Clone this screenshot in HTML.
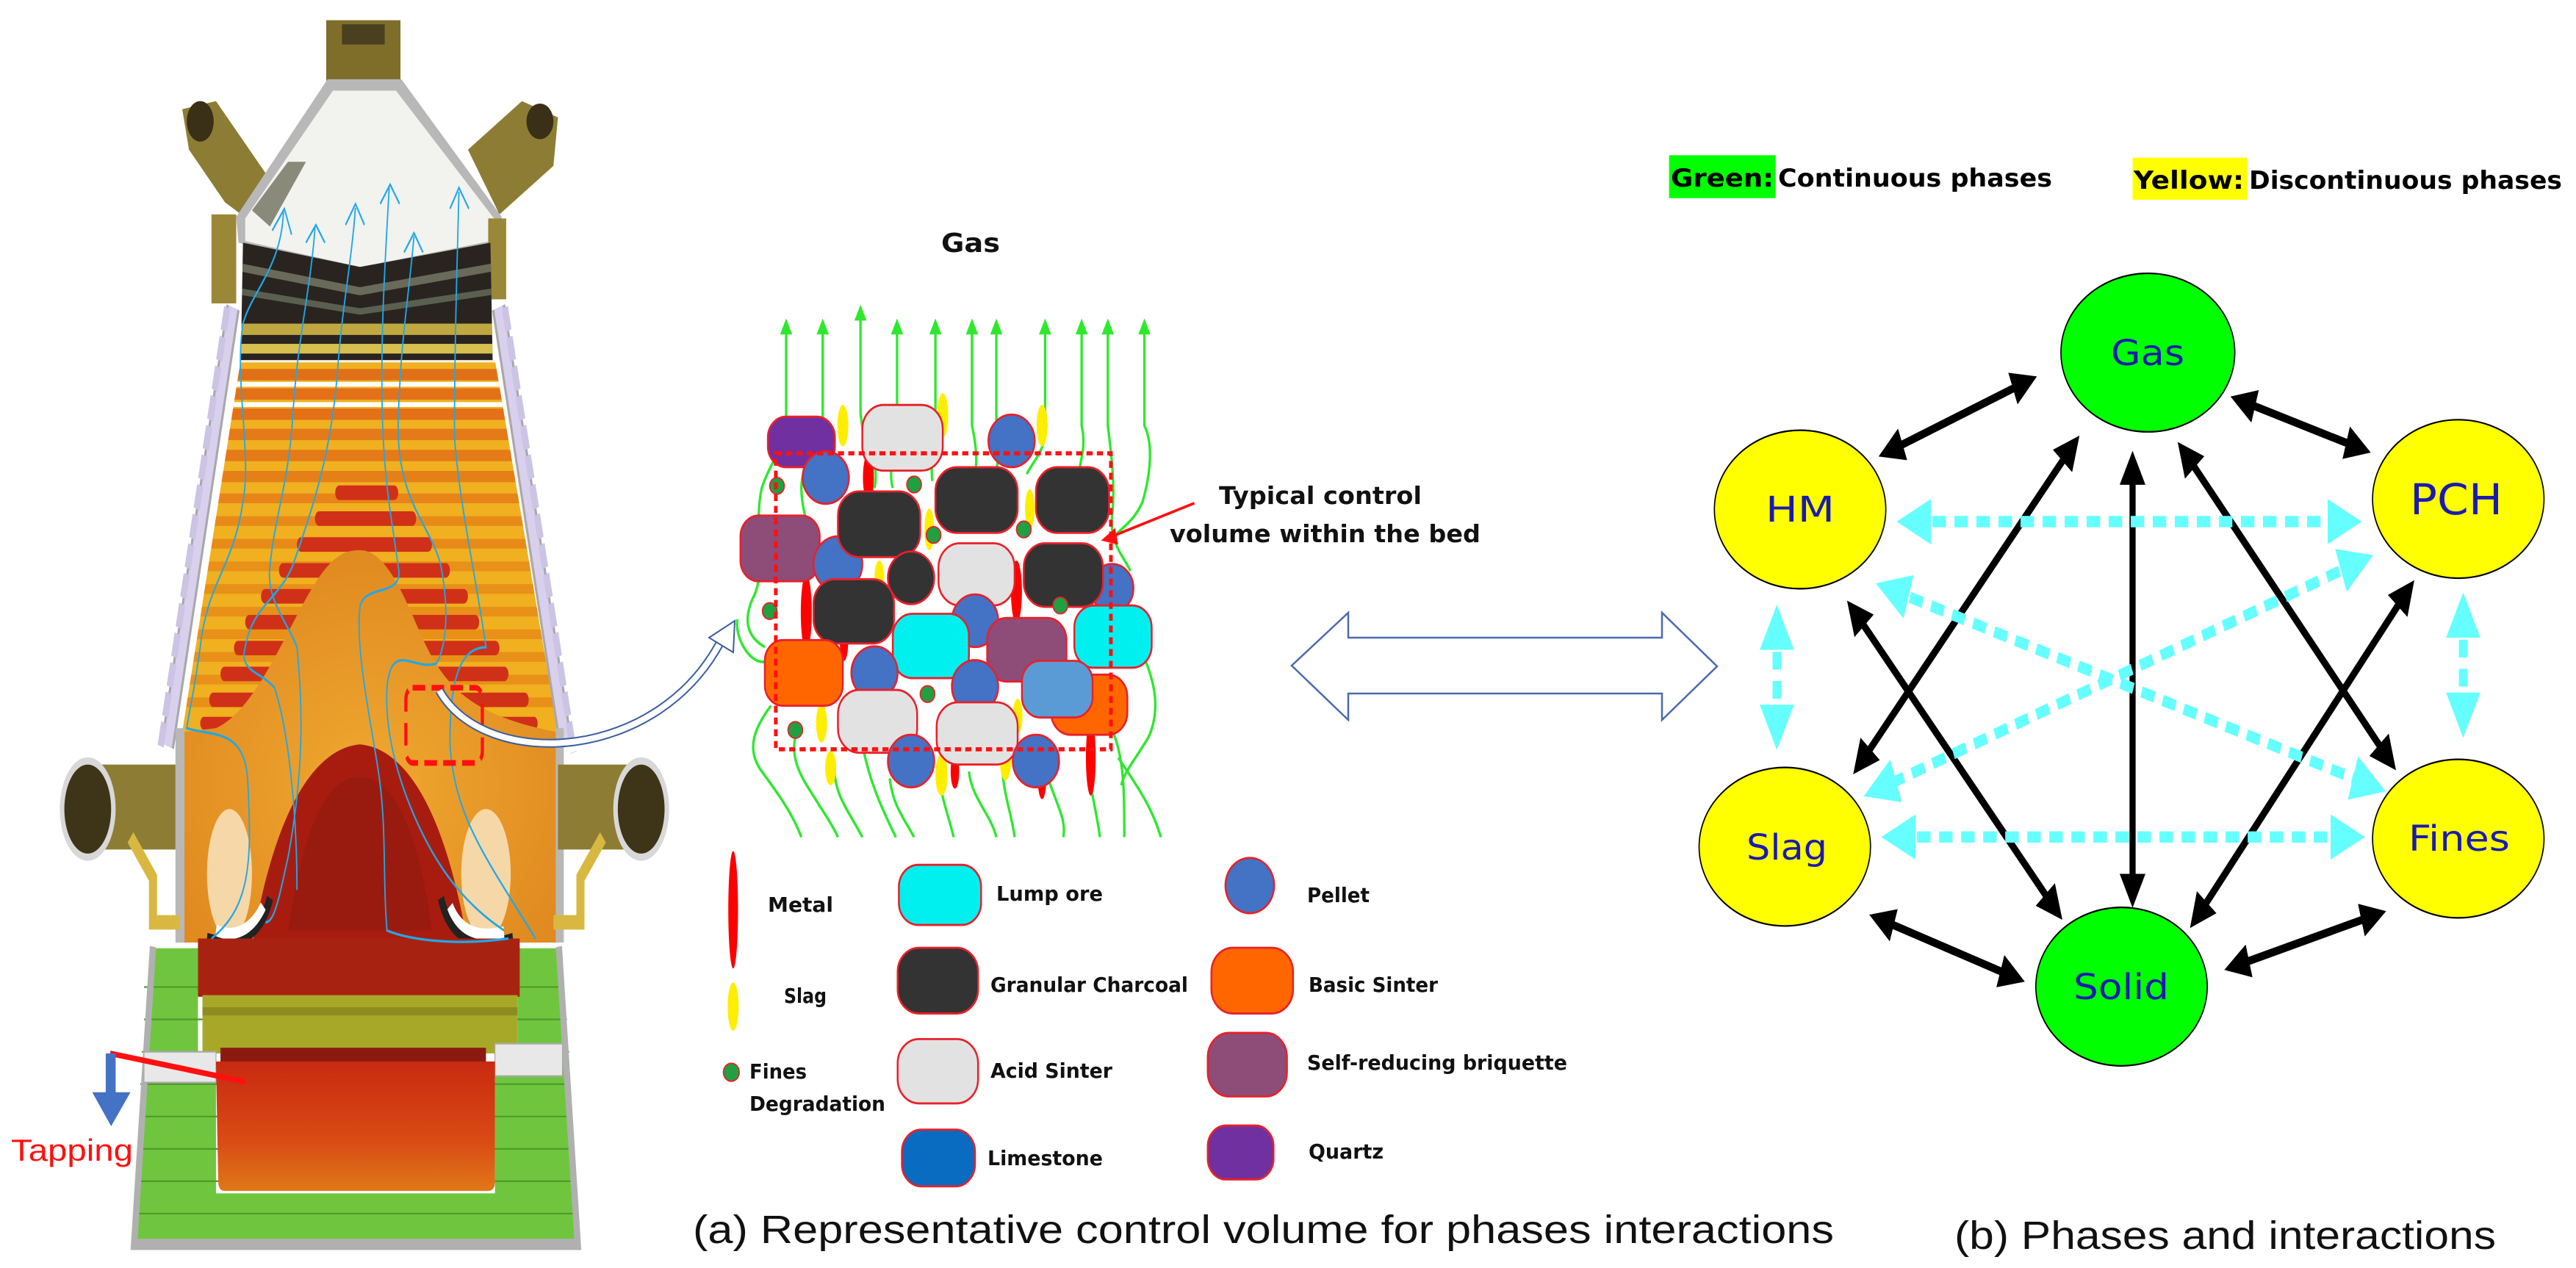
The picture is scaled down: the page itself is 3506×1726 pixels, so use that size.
<!DOCTYPE html>
<html><head><meta charset="utf-8"><style>
html,body{margin:0;padding:0;background:#fff}
svg{display:block}
text{font-family:"DejaVu Sans","Liberation Sans",sans-serif}
</style></head><body>
<svg width="3506" height="1726" viewBox="0 0 3506 1726" xmlns="http://www.w3.org/2000/svg">
<defs>
<marker id="bk" viewBox="0 0 10 10" refX="7" refY="5" markerWidth="4.2" markerHeight="4.2" orient="auto-start-reverse" markerUnits="strokeWidth"><path d="M0,0 L10,5 L0,10 z" fill="#000"/></marker>
<marker id="cy" viewBox="0 0 10 10" refX="6" refY="5" markerWidth="4" markerHeight="4.4" orient="auto-start-reverse" markerUnits="strokeWidth"><path d="M0,0 L10,5 L0,10 z" fill="#66ffff"/></marker>
<marker id="gr" viewBox="0 0 10 10" refX="5" refY="5" markerWidth="6" markerHeight="6" orient="auto" markerUnits="strokeWidth"><path d="M0,0 L10,5 L0,10 z" fill="#22e022"/></marker>
<marker id="bl" viewBox="0 0 10 10" refX="5" refY="5" markerWidth="8" markerHeight="8" orient="auto" markerUnits="strokeWidth"><path d="M0,0 L10,5 L0,10" fill="none" stroke="#20a8e8" stroke-width="1.5"/></marker>
<clipPath id="shaft"><polygon points="535,445 1100,445 1240,905 405,905"/></clipPath>
<clipPath id="dark"><polygon points="540,300 800,330 1090,300 1095,450 535,450"/></clipPath>
<linearGradient id="liq" x1="0" y1="0" x2="0" y2="1"><stop offset="0" stop-color="#c82a10"/><stop offset="0.6" stop-color="#d84a14"/><stop offset="1" stop-color="#e07818"/></linearGradient>
<radialGradient id="bosh" cx="0.5" cy="0.6" r="0.6"><stop offset="0" stop-color="#f0a830"/><stop offset="1" stop-color="#e08a20"/></radialGradient>
</defs>

<!-- ================= FURNACE (zoom3 coords) ================= -->
<g transform="scale(0.6124,1.1013)">
  <!-- top block -->
  <rect x="725" y="25" width="165" height="75" fill="#7e6e2a"/>
  <rect x="760" y="30" width="95" height="25" fill="#4a4020"/>
  <!-- upper pipes -->
  <polygon points="405,135 480,125 610,230 560,275 500,250 420,185" fill="#8d7d34"/>
  <ellipse cx="445" cy="150" rx="30" ry="25" fill="#3a3018"/>
  <polygon points="1040,185 1160,125 1240,145 1230,205 1110,265" fill="#8d7d34"/>
  <ellipse cx="1200" cy="150" rx="30" ry="22" fill="#3a3018"/>
  <!-- hood -->
  <polygon points="525,268 728,98 892,98 1115,268 1105,300 800,335 530,300" fill="#b8b8b8"/>
  <polygon points="545,270 740,112 880,112 1098,270 1090,298 800,330 545,298" fill="#f2f2ef"/>
  <polygon points="560,260 640,200 680,200 600,280" fill="#8a8a7a"/>
  <!-- side boxes -->
  <rect x="470" y="265" width="55" height="110" fill="#9a8838"/>
  <rect x="1085" y="270" width="40" height="100" fill="#9a8838"/>
  <!-- dark bands -->
  <g clip-path="url(#dark)">
    <rect x="530" y="290" width="580" height="170" fill="#2a2420"/>
    <path d="M530,330 L800,360 L1100,330" stroke="#6a6a5a" stroke-width="10" fill="none"/>
    <path d="M530,360 L800,385 L1100,360" stroke="#5a6050" stroke-width="8" fill="none"/>
    <rect x="530" y="400" width="580" height="14" fill="#c0a840"/>
    <rect x="530" y="425" width="580" height="12" fill="#d8c050"/>
  </g>
  <!-- shaft stripes -->
  <g clip-path="url(#shaft)">
    <rect x="380" y="440" width="900" height="470" fill="#f0b020"/>
    <rect x="380" y="440" width="900" height="8" fill="#f4f0e8"/>
    <rect x="380" y="456" width="900" height="14" fill="#e07018"/>
    <rect x="380" y="472" width="900" height="6" fill="#fff"/>
    <rect x="380" y="480" width="900" height="14" fill="#e47018"/>
    <rect x="380" y="497" width="900" height="6" fill="#fff"/>
    <rect x="380" y="505" width="900" height="14" fill="#e47018"/>
    <rect x="380" y="530" width="900" height="14" fill="#e57a18"/>
    <rect x="380" y="556" width="900" height="14" fill="#e57a18"/>
    <rect x="380" y="582" width="900" height="14" fill="#e58018"/>
    <rect x="380" y="610" width="900" height="12" fill="#e88418"/>
    <rect x="380" y="638" width="900" height="12" fill="#e88a18"/>
    <rect x="380" y="666" width="900" height="12" fill="#e88a18"/>
    <rect x="380" y="694" width="900" height="12" fill="#e89018"/>
    <rect x="380" y="722" width="900" height="12" fill="#e89018"/>
    <rect x="380" y="750" width="900" height="12" fill="#e89018"/>
    <rect x="380" y="778" width="900" height="12" fill="#e89018"/>
    <rect x="380" y="806" width="900" height="12" fill="#e89018"/>
    <rect x="380" y="834" width="900" height="12" fill="#e89018"/>
    <rect x="380" y="862" width="900" height="12" fill="#e89018"/>
    <!-- red bands -->
    <g fill="#d03018">
      <rect x="745" y="600" width="140" height="18" rx="9"/>
      <rect x="700" y="632" width="225" height="18" rx="9"/>
      <rect x="660" y="664" width="300" height="18" rx="9"/>
      <rect x="620" y="696" width="380" height="18" rx="9"/>
      <rect x="580" y="728" width="460" height="18" rx="9"/>
      <rect x="545" y="760" width="520" height="18" rx="9"/>
      <rect x="520" y="792" width="590" height="18" rx="9"/>
      <rect x="490" y="824" width="640" height="18" rx="9"/>
      <rect x="465" y="856" width="710" height="18" rx="9"/>
      <rect x="445" y="886" width="750" height="16" rx="8"/>
    </g>
  </g>
  <!-- walls -->
  <path d="M518,380 L372,922" stroke="#a8a8a8" stroke-width="30"/>
  <path d="M518,380 L372,922" stroke="#d8d0ec" stroke-width="20"/>
  <path d="M1108,380 L1258,922" stroke="#a8a8a8" stroke-width="30"/>
  <path d="M1108,380 L1258,922" stroke="#d8d0ec" stroke-width="20"/>
  <path d="M505,380 L355,930" stroke="#ccc4e4" stroke-width="14" stroke-dasharray="30 8"/>
  <path d="M1122,380 L1275,930" stroke="#ccc4e4" stroke-width="14" stroke-dasharray="30 8"/>
  <!-- bosh / cohesive zone -->
  <path d="M405,905 L480,900 C560,880 620,800 680,740 C730,690 760,680 800,680 C860,680 900,740 940,790 C990,850 1050,885 1240,905 L1240,1165 L405,1165 Z" fill="url(#bosh)"/>
  <rect x="390" y="900" width="20" height="265" fill="#b8b8b8"/>
  <rect x="1235" y="900" width="18" height="265" fill="#b8b8b8"/>
  <ellipse cx="510" cy="1080" rx="50" ry="80" fill="#f6d8a8"/>
  <ellipse cx="1080" cy="1080" rx="55" ry="80" fill="#f6d8a8"/>
  <!-- red core -->
  <path d="M560,1170 C610,1000 700,925 800,920 C900,925 990,1000 1040,1170 Z" fill="#a81c10"/>
  <path d="M640,1150 C680,1000 740,960 800,960 C870,960 930,1020 960,1150 Z" fill="#8a1a10" opacity="0.5"/>
  <path d="M460,1160 C520,1170 580,1160 600,1110" stroke="#222" stroke-width="14" fill="none"/>
  <path d="M980,1110 C1000,1160 1060,1175 1140,1160" stroke="#222" stroke-width="14" fill="none"/>
  <path d="M480,1150 C520,1160 560,1150 585,1120" stroke="#fff" stroke-width="14" fill="none"/>
  <path d="M1000,1120 C1020,1150 1060,1160 1120,1152" stroke="#fff" stroke-width="14" fill="none"/>
  <!-- hearth -->
  <polygon points="340,1172 440,1172 440,1300 480,1300 480,1475 1100,1475 1100,1300 1150,1300 1150,1172 1240,1172 1282,1535 298,1535" fill="#6fc63e"/>
  <g stroke="#4f9a2a" stroke-width="2" fill="none">
    <path d="M320,1220 H1250 M320,1260 H1260 M315,1300 H1265 M312,1340 H1268 M310,1380 H1272 M306,1420 H1276 M303,1460 H1278 M300,1500 H1280"/>
  </g>
  <path d="M340,1170 L298,1538 L1284,1538 L1242,1170" stroke="#b0b0b0" stroke-width="14" fill="none"/>
  <rect x="440" y="1160" width="715" height="72" fill="#a82212"/>
  <rect x="450" y="1230" width="700" height="72" fill="#a8a828"/>
  <rect x="450" y="1245" width="700" height="10" fill="#7a7a1a" opacity="0.6"/>
  <rect x="490" y="1295" width="590" height="20" fill="#8a1a10"/>
  <rect x="320" y="1300" width="160" height="38" fill="#e8e8e8" stroke="#aaa" stroke-width="2"/>
  <rect x="1100" y="1290" width="150" height="40" fill="#e8e8e8" stroke="#aaa" stroke-width="2"/>
  <path d="M480,1312 L1100,1312 L1100,1460 Q1100,1472 1085,1472 L500,1472 Q485,1472 485,1460 Z" fill="url(#liq)"/>
  <!-- tuyeres -->
  <rect x="200" y="945" width="190" height="105" fill="#8d7d34"/>
  <ellipse cx="195" cy="1000" rx="62" ry="64" fill="#d8d8d8"/>
  <ellipse cx="195" cy="1000" rx="52" ry="55" fill="#3e3418"/>
  <path d="M290,1035 L340,1085 L340,1140 L400,1140" stroke="#d8b840" stroke-width="18" fill="none"/>
  <rect x="1240" y="945" width="190" height="105" fill="#8d7d34"/>
  <ellipse cx="1425" cy="1000" rx="62" ry="64" fill="#d8d8d8"/>
  <ellipse cx="1425" cy="1000" rx="52" ry="55" fill="#3e3418"/>
  <path d="M1340,1035 L1290,1085 L1290,1140 L1230,1140" stroke="#d8b840" stroke-width="18" fill="none"/>
  <!-- gas flow lines -->
  <g stroke="#20a8e8" stroke-width="3" fill="none">
    <path d="M630,262 C625,330 560,360 540,400 C520,470 560,560 540,620 C520,700 460,720 445,800 C430,860 420,880 415,900 C470,910 540,900 550,960 C560,1060 560,1120 470,1160"/>
    <path d="M700,282 C690,360 660,420 650,520 C640,600 610,640 600,700 C590,740 640,770 660,800 C670,860 680,940 640,1060 C620,1110 610,1140 590,1140"/>
    <path d="M790,257 C780,330 760,380 750,460 C735,560 700,620 650,700 C620,740 560,750 545,800 C530,830 580,830 610,850 C640,900 660,1000 660,1100"/>
    <path d="M865,232 C855,330 845,420 850,520 C855,600 870,640 885,700 C900,740 810,720 800,750 C790,800 820,880 840,950 C860,1020 850,1080 860,1150 C900,1160 1000,1170 1130,1160"/>
    <path d="M920,292 C910,360 890,420 885,520 C880,620 960,650 980,700 C1000,760 990,800 970,820 C920,830 870,790 860,850 C855,900 880,960 930,1020 C980,1080 1040,1120 1120,1150"/>
    <path d="M1020,237 C1015,340 1010,440 1010,540 C1020,620 1060,720 1080,800 C1010,800 1000,860 1000,920 C1010,1010 1080,1060 1190,1160"/>
  </g>
  <g stroke="#20a8e8" stroke-width="3" fill="none">
    <path d="M605,285 L632,258 L648,290"/>
    <path d="M680,300 L702,278 L722,300"/>
    <path d="M768,278 L790,252 L810,278"/>
    <path d="M845,252 L867,228 L888,252"/>
    <path d="M898,312 L920,288 L940,312"/>
    <path d="M1000,258 L1020,232 L1042,258"/>
  </g>
  <!-- red dashed box -->
  <rect x="902" y="850" width="170" height="93" rx="15" fill="none" stroke="#ff1010" stroke-width="7" stroke-dasharray="28 14"/>
  <!-- tapping -->
  <path d="M245,1302 L545,1337" stroke="#ff1010" stroke-width="7"/>
  <rect x="235" y="1302" width="22" height="50" fill="#4472c4"/>
  <polygon points="205,1350 290,1350 247,1392" fill="#4472c4"/>
</g>
<text x="15" y="1580" font-family="Liberation Sans, sans-serif" font-size="42" fill="#ff1010" textLength="166" lengthAdjust="spacingAndGlyphs" style="font-family:'Liberation Sans',sans-serif">Tapping</text>

<!-- curved hollow arrow from furnace box to control volume -->
<g fill="none">
  <path d="M598,940 C660,1050 900,1040 985,865" stroke="#3b5ea0" stroke-width="12"/>
  <path d="M598,940 C660,1050 900,1040 985,865" stroke="#fff" stroke-width="8"/>
  <polygon points="965,868 1000,845 998,888" fill="#fff" stroke="#3b5ea0" stroke-width="2"/>
</g>

<!-- ================= CONTROL VOLUME (zoom2 coords) ================= -->
<g transform="translate(900,250) scale(0.8292,0.9413)">
  <!-- green gas lines -->
  <g stroke="#2ee82e" stroke-width="4" fill="none">
    <path d="M205,210 L205,340 C205,380 180,400 165,440 C150,500 175,560 150,600 C130,640 150,660 170,670"/>
    <path d="M265,210 L265,340 C265,380 230,400 230,440 C230,480 250,500 240,560"/>
    <path d="M327,190 L327,330 C330,380 360,400 350,440"/>
    <path d="M387,210 L387,330 C390,380 370,410 380,440"/>
    <path d="M450,210 L450,330 C455,370 440,400 445,430"/>
    <path d="M510,210 L510,350 C520,390 520,420 505,450"/>
    <path d="M550,210 L550,350 C560,400 545,430 540,460"/>
    <path d="M630,210 L630,330 C640,380 610,400 600,420"/>
    <path d="M690,210 L690,350 C700,390 680,410 690,420"/>
    <path d="M733,210 L733,350 C740,400 745,440 740,480 C735,520 760,540 770,560"/>
    <path d="M793,210 L793,350 C810,380 800,430 790,460 C770,500 740,500 745,520"/>
    <path d="M125,630 C120,660 150,700 175,690"/>
    <path d="M790,680 C810,720 820,760 800,800 C780,830 760,850 755,870"/>
    <path d="M180,755 C150,790 140,820 165,850 C190,880 215,910 230,945"/>
    <path d="M220,800 C210,840 240,870 260,900 C275,920 285,935 290,945"/>
    <path d="M285,840 C280,880 310,910 330,945"/>
    <path d="M330,810 C340,860 360,900 385,945"/>
    <path d="M375,860 C380,900 400,920 415,945"/>
    <path d="M455,850 C460,890 470,910 480,945"/>
    <path d="M505,850 C510,890 540,910 550,945"/>
    <path d="M560,840 C560,880 575,910 580,945"/>
    <path d="M635,860 C650,900 665,920 660,945"/>
    <path d="M700,840 C705,880 715,910 720,945"/>
    <path d="M740,790 C760,830 760,880 760,945"/>
    <path d="M750,830 C780,870 805,900 820,945"/>
  </g>
  <g fill="#2ee82e">
    <polygon points="195,218 205,195 215,218"/><polygon points="255,218 265,195 275,218"/>
    <polygon points="317,198 327,175 337,198"/><polygon points="377,218 387,195 397,218"/>
    <polygon points="440,218 450,195 460,218"/><polygon points="500,218 510,195 520,218"/>
    <polygon points="540,218 550,195 560,218"/><polygon points="620,218 630,195 640,218"/>
    <polygon points="680,218 690,195 700,218"/><polygon points="723,218 733,195 743,218"/>
    <polygon points="783,218 793,195 803,218"/>
  </g>
  <!-- slag/metal streaks -->
  <g fill="#ffee00">
    <ellipse cx="298" cy="350" rx="9" ry="30"/><ellipse cx="462" cy="335" rx="9" ry="32"/>
    <ellipse cx="625" cy="350" rx="9" ry="30"/><ellipse cx="263" cy="780" rx="9" ry="28"/>
    <ellipse cx="278" cy="845" rx="9" ry="25"/><ellipse cx="460" cy="855" rx="10" ry="30"/>
    <ellipse cx="565" cy="835" rx="9" ry="28"/><ellipse cx="440" cy="500" rx="8" ry="30"/>
    <ellipse cx="605" cy="470" rx="8" ry="28"/><ellipse cx="358" cy="570" rx="8" ry="25"/>
    <ellipse cx="585" cy="770" rx="8" ry="25"/>
  </g>
  <g fill="#ff0000">
    <ellipse cx="238" cy="620" rx="9" ry="55"/><ellipse cx="340" cy="425" rx="9" ry="35"/>
    <ellipse cx="583" cy="590" rx="9" ry="45"/><ellipse cx="705" cy="830" rx="8" ry="55"/>
    <ellipse cx="482" cy="850" rx="7" ry="25"/><ellipse cx="625" cy="860" rx="7" ry="30"/>
    <ellipse cx="300" cy="660" rx="7" ry="30"/><ellipse cx="410" cy="475" rx="7" ry="25"/>
  </g>
  <!-- particles -->
  <g stroke="#e8202a" stroke-width="3">
    <rect x="175" y="337" width="110" height="73" rx="30" fill="#7030a0"/>
    <circle cx="270" cy="425" r="38" fill="#4472c4"/>
    <rect x="330" y="320" width="132" height="95" rx="35" fill="#e2e2e2"/>
    <circle cx="575" cy="372" r="38" fill="#4472c4"/>
    <rect x="130" y="480" width="130" height="95" rx="30" fill="#8e4c78"/>
    <circle cx="290" cy="550" r="40" fill="#4472c4"/>
    <rect x="290" y="445" width="135" height="95" rx="35" fill="#333"/>
    <rect x="450" y="410" width="135" height="95" rx="35" fill="#333"/>
    <rect x="615" y="410" width="120" height="95" rx="35" fill="#333"/>
    <circle cx="740" cy="585" r="35" fill="#4472c4"/>
    <circle cx="410" cy="570" r="38" fill="#333"/>
    <rect x="455" y="520" width="125" height="90" rx="35" fill="#e2e2e2"/>
    <rect x="595" y="520" width="130" height="92" rx="35" fill="#333"/>
    <rect x="250" y="572" width="132" height="93" rx="35" fill="#333"/>
    <circle cx="515" cy="632" r="38" fill="#4472c4"/>
    <rect x="380" y="622" width="125" height="93" rx="32" fill="#00f0f0"/>
    <rect x="535" y="628" width="130" height="92" rx="32" fill="#8e4c78"/>
    <rect x="678" y="610" width="127" height="90" rx="32" fill="#00f0f0"/>
    <rect x="170" y="660" width="128" height="95" rx="30" fill="#ff6600"/>
    <circle cx="350" cy="707" r="38" fill="#4472c4"/>
    <circle cx="515" cy="727" r="38" fill="#4472c4"/>
    <rect x="640" y="710" width="125" height="87" rx="32" fill="#ff6600"/>
    <rect x="592" y="690" width="116" height="82" rx="30" fill="#5b9bd5"/>
    <rect x="290" y="732" width="130" height="91" rx="35" fill="#e2e2e2"/>
    <rect x="452" y="750" width="133" height="90" rx="35" fill="#e2e2e2"/>
    <circle cx="410" cy="835" r="38" fill="#4472c4"/>
    <circle cx="615" cy="835" r="38" fill="#4472c4"/>
  </g>
  <g fill="#20a040" stroke="#e8202a" stroke-width="2">
    <circle cx="190" cy="437" r="12"/><circle cx="415" cy="435" r="12"/><circle cx="447" cy="508" r="12"/>
    <circle cx="595" cy="500" r="12"/><circle cx="178" cy="618" r="12"/><circle cx="655" cy="610" r="12"/>
    <circle cx="437" cy="738" r="12"/><circle cx="220" cy="790" r="12"/>
  </g>
  <!-- control volume dashed box -->
  <rect x="188" y="390" width="550" height="428" fill="none" stroke="#ff1010" stroke-width="6" stroke-dasharray="10 7"/>
  <!-- pointer arrow -->
  <path d="M875,462 L740,510" stroke="#ff1010" stroke-width="4"/>
  <polygon points="722,516 745,498 750,522" fill="#ff1010"/>

  <!-- legend shapes -->
  <ellipse cx="118" cy="1050" rx="8" ry="85" fill="#ff0000"/>
  <ellipse cx="118" cy="1190" rx="9" ry="35" fill="#ffee00"/>
  <circle cx="115" cy="1285" r="13" fill="#20a040" stroke="#e8202a" stroke-width="2"/>
  <g stroke="#e8202a" stroke-width="3">
    <rect x="390" y="985" width="135" height="87" rx="32" fill="#00f0f0"/>
    <rect x="388" y="1105" width="132" height="95" rx="35" fill="#333"/>
    <rect x="388" y="1237" width="132" height="93" rx="35" fill="#e2e2e2"/>
    <rect x="395" y="1368" width="120" height="82" rx="32" fill="#0a6cc0"/>
    <circle cx="966" cy="1015" r="40" fill="#4472c4"/>
    <rect x="903" y="1105" width="134" height="95" rx="35" fill="#ff6600"/>
    <rect x="897" y="1228" width="130" height="92" rx="35" fill="#8e4c78"/>
    <rect x="897" y="1362" width="108" height="78" rx="30" fill="#7030a0"/>
  </g>
  <!-- big hollow double arrow (left head) -->
</g>

<!-- control volume texts -->
<g font-weight="bold" fill="#111">
  <text x="1281" y="343" font-size="36" textLength="80" lengthAdjust="spacingAndGlyphs">Gas</text>
  <text x="1659" y="686" font-size="33" textLength="276" lengthAdjust="spacingAndGlyphs">Typical control</text>
  <text x="1592" y="738" font-size="33" textLength="423" lengthAdjust="spacingAndGlyphs">volume within the bed</text>
  <g font-size="28">
  <text x="1045" y="1241" textLength="89" lengthAdjust="spacingAndGlyphs">Metal</text>
  <text x="1067" y="1365" textLength="58" lengthAdjust="spacingAndGlyphs">Slag</text>
  <text x="1020" y="1468" textLength="78" lengthAdjust="spacingAndGlyphs">Fines</text>
  <text x="1020" y="1512" textLength="185" lengthAdjust="spacingAndGlyphs">Degradation</text>
  <text x="1356" y="1226" textLength="145" lengthAdjust="spacingAndGlyphs">Lump ore</text>
  <text x="1348" y="1350" textLength="269" lengthAdjust="spacingAndGlyphs">Granular  Charcoal</text>
  <text x="1348" y="1467" textLength="166" lengthAdjust="spacingAndGlyphs">Acid  Sinter</text>
  <text x="1344" y="1586" textLength="157" lengthAdjust="spacingAndGlyphs">Limestone</text>
  <text x="1779" y="1228" textLength="85" lengthAdjust="spacingAndGlyphs">Pellet</text>
  <text x="1781" y="1350" textLength="176" lengthAdjust="spacingAndGlyphs">Basic  Sinter</text>
  <text x="1779" y="1456" textLength="354" lengthAdjust="spacingAndGlyphs">Self-reducing briquette</text>
  <text x="1781" y="1577" textLength="102" lengthAdjust="spacingAndGlyphs">Quartz</text>
  </g>
</g>

<!-- big hollow double arrow -->
<polygon points="1758,906 1835,834 1835,868 2262,868 2262,834 2337,907 2262,980 2262,944 1835,944 1835,980" fill="#fff" stroke="#4a6ab0" stroke-width="2.5"/>

<!-- captions -->
<text x="943" y="1692" font-size="54" fill="#111" textLength="1553" lengthAdjust="spacingAndGlyphs" style="font-family:'Liberation Sans',sans-serif">(a) Representative control volume for phases interactions</text>
<text x="2660" y="1700" font-size="54" fill="#111" textLength="737" lengthAdjust="spacingAndGlyphs" style="font-family:'Liberation Sans',sans-serif">(b) Phases and interactions</text>

<!-- ================= PHASES DIAGRAM (zoom1 coords) ================= -->
<g transform="translate(2200,0) scale(0.8333,1.1008)">
  <!-- black double arrows -->
  <g stroke="#000" stroke-width="10" marker-start="url(#bk)" marker-end="url(#bk)">
    <line x1="440" y1="560" x2="675" y2="470"/>
    <line x1="1015" y1="494" x2="1220" y2="556"/>
    <line x1="748" y1="548" x2="395" y2="948"/>
    <line x1="843" y1="570" x2="843" y2="1110"/>
    <line x1="925" y1="556" x2="1265" y2="943"/>
    <line x1="385" y1="752" x2="720" y2="1128"/>
    <line x1="1295" y1="727" x2="945" y2="1138"/>
    <line x1="425" y1="1135" x2="655" y2="1210"/>
    <line x1="1005" y1="1196" x2="1245" y2="1130"/>
  </g>
  <!-- cyan dashed -->
  <g stroke="#66ffff" stroke-width="14" stroke-dasharray="22 14" marker-start="url(#cy)" marker-end="url(#cy)">
    <line x1="480" y1="645" x2="1195" y2="645"/>
    <line x1="455" y1="1035" x2="1200" y2="1035"/>
    <line x1="262" y1="770" x2="262" y2="905"/>
    <line x1="1383" y1="755" x2="1383" y2="890"/>
    <line x1="445" y1="728" x2="1235" y2="972"/>
    <line x1="1215" y1="694" x2="425" y2="977"/>
  </g>
  <!-- nodes -->
  <g stroke="#000" stroke-width="2">
    <ellipse cx="868" cy="436" rx="142" ry="98" fill="#00ff00"/>
    <ellipse cx="300" cy="630" rx="140" ry="98" fill="#ffff00"/>
    <ellipse cx="1375" cy="617" rx="140" ry="98" fill="#ffff00"/>
    <ellipse cx="275" cy="1047" rx="140" ry="98" fill="#ffff00"/>
    <ellipse cx="1375" cy="1037" rx="140" ry="98" fill="#ffff00"/>
    <ellipse cx="825" cy="1220" rx="140" ry="98" fill="#00ff00"/>
  </g>
  <rect x="86" y="192" width="174" height="53" fill="#00ff00"/>
  <rect x="843" y="195" width="187" height="52" fill="#ffff00"/>
</g>
<!-- node labels -->
<g fill="#1a1ab0" text-anchor="middle" font-size="48">
  <text x="2923" y="497" textLength="100" lengthAdjust="spacingAndGlyphs">Gas</text>
  <text x="2450" y="710" textLength="94" lengthAdjust="spacingAndGlyphs">HM</text>
  <text x="3343" y="700" font-size="58" textLength="126" lengthAdjust="spacingAndGlyphs">PCH</text>
  <text x="2432" y="1170" textLength="110" lengthAdjust="spacingAndGlyphs">Slag</text>
  <text x="3347" y="1158" textLength="138" lengthAdjust="spacingAndGlyphs">Fines</text>
  <text x="2887" y="1360" textLength="130" lengthAdjust="spacingAndGlyphs">Solid</text>
</g>
<!-- legend texts -->
<g font-size="34" fill="#000" font-weight="bold">
  <text x="2274" y="254" textLength="140" lengthAdjust="spacingAndGlyphs">Green:</text>
  <text x="2420" y="254" textLength="373" lengthAdjust="spacingAndGlyphs">Continuous  phases</text>
  <text x="2904" y="257" textLength="150" lengthAdjust="spacingAndGlyphs">Yellow:</text>
  <text x="3061" y="257" textLength="426" lengthAdjust="spacingAndGlyphs">Discontinuous  phases</text>
</g>
</svg>
</body></html>
